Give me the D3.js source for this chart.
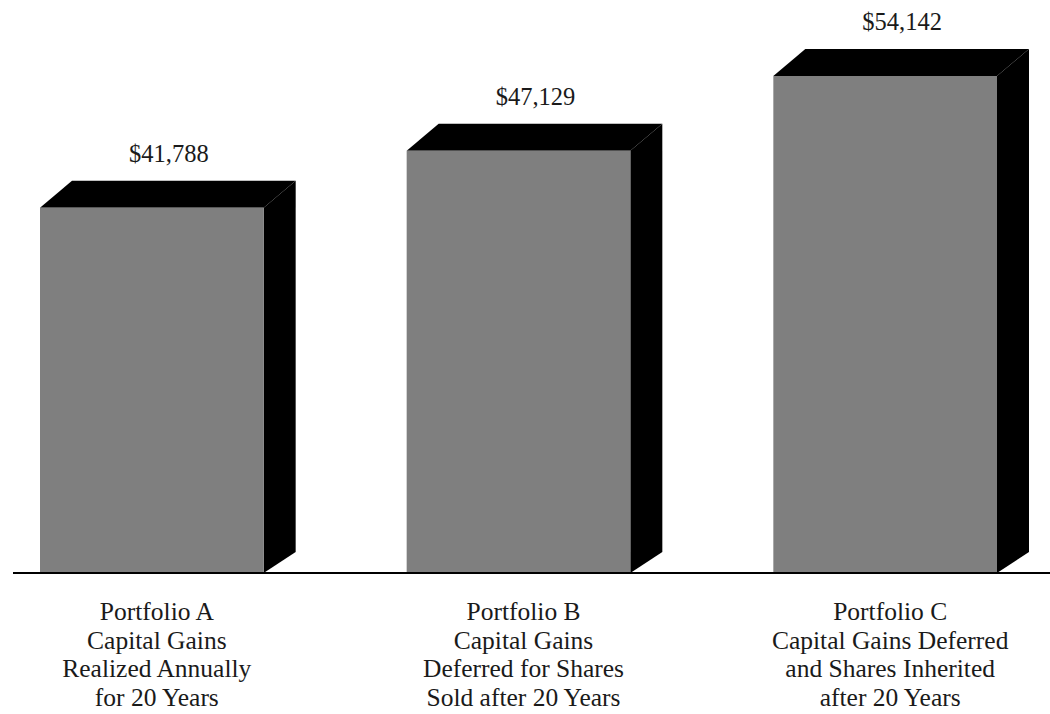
<!DOCTYPE html>
<html><head><meta charset="utf-8">
<script src="https://cdn.jsdelivr.net/npm/d3@7"></script>
<style>body{margin:0;background:#fff}svg{display:block}</style>
</head><body>
<svg id="c" width="1050" height="714"></svg>
<script>
const categories = ["A", "B", "C"];
const values = [41788, 47129, 54142];
const valueLabels = ["$41,788", "$47,129", "$54,142"];
const categoryLines = [
  ["Portfolio A", "Capital Gains", "Realized Annually", "for 20 Years"],
  ["Portfolio B", "Capital Gains", "Deferred for Shares", "Sold after 20 Years"],
  ["Portfolio C", "Capital Gains Deferred", "and Shares Inherited", "after 20 Years"]
];

const svg = d3.select("#c");
const baseY = 573, topY = 76;
const dx = 32, dy = 27;
const x = d3.scaleBand().domain(categories).range([40, 997]).paddingInner(0.39).paddingOuter(0);
const y = d3.scaleLinear().domain([7500, 54142]).range([baseY, topY]);
const bw = x.bandwidth();

const g = svg.append("g");
const bars = g.selectAll("g.bar").data(categories).enter().append("g").attr("class", "bar");

// side face
bars.append("path").attr("fill", "#000").attr("d", (c, i) => {
  const r = x(c) + bw, t = y(values[i]);
  return `M${r},${t}L${r + dx},${t - dy}L${r + dx},${baseY - dy + 6}L${r},${baseY}Z`;
});
// top face
bars.append("path").attr("fill", "#000").attr("d", (c, i) => {
  const l = x(c), r = x(c) + bw, t = y(values[i]);
  return `M${l},${t}L${l + dx},${t - dy}L${r + dx},${t - dy}L${r},${t}Z`;
});
// front face
bars.append("rect")
  .attr("x", c => x(c)).attr("y", (c, i) => y(values[i]))
  .attr("width", bw).attr("height", (c, i) => baseY - y(values[i]))
  .attr("fill", "#7f7f7f");

// baseline
svg.append("line").attr("x1", 13).attr("x2", 1050).attr("y1", baseY).attr("y2", baseY)
  .attr("stroke", "#000").attr("stroke-width", 2);

// value labels
bars.append("text")
  .attr("x", c => x(c) + bw / 2 + 17)
  .attr("y", (c, i) => y(values[i]) - dy - 19)
  .attr("text-anchor", "middle")
  .attr("font-family", "'Liberation Serif', 'DejaVu Serif', serif")
  .attr("font-size", 24.5).attr("fill", "#1a1a1a")
  .text((c, i) => valueLabels[i]);

// category labels
bars.append("text")
  .attr("text-anchor", "middle")
  .attr("font-family", "'Liberation Serif', 'DejaVu Serif', serif")
  .attr("font-size", 25.5).attr("fill", "#1a1a1a")
  .each(function(c, i) {
    const t = d3.select(this);
    categoryLines[i].forEach((ln, j) => {
      t.append("tspan").attr("x", x(c) + bw / 2 + 5).attr("y", 620 + j * 28.5).text(ln);
    });
  });
</script>
</body></html>
